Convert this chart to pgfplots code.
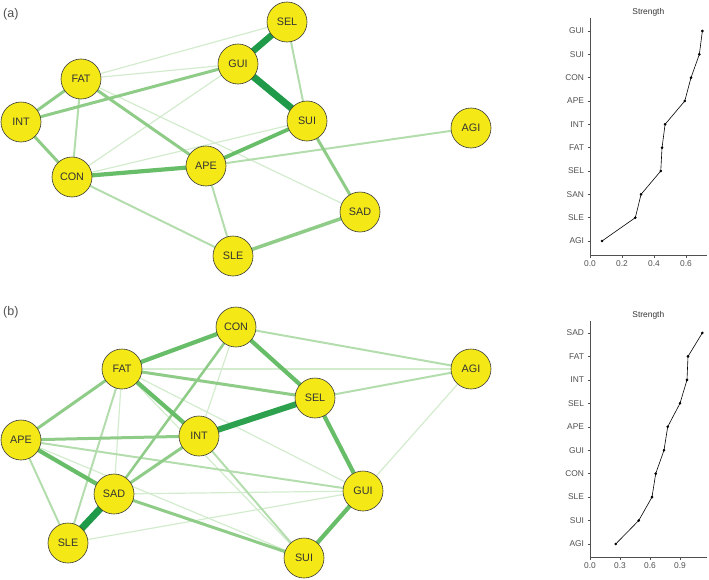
\documentclass[border=0pt]{standalone}
\usepackage{pgfplots}
\pgfplotsset{compat=1.18}
\usepackage{pgfplotstable}
\usepackage{fontspec}
\setmainfont{Liberation Sans}

\definecolor{nodey}{HTML}{F4E916}
\definecolor{nodeb}{HTML}{3A3A3A}
\definecolor{eA}{HTML}{D3ECCE}
\definecolor{eB}{HTML}{B4DDAD}
\definecolor{eC}{HTML}{8FCC88}
\definecolor{eD}{HTML}{68BD68}
\definecolor{eE}{HTML}{1E9A48}
\definecolor{txt}{HTML}{333333}
\definecolor{axg}{HTML}{505050}

\tikzset{
  e1/.style={line width=1.2pt, color=eA},
  e2/.style={line width=2pt, color=eB},
  e3/.style={line width=3pt, color=eC},
  e4/.style={line width=4.2pt, color=eD},
  e5/.style={line width=6.5pt, color=eE},
}

\pgfplotstableread{
x y label
287 22 SEL
238 64 GUI
81 79 FAT
21 122 INT
307 121 SUI
471 128 AGI
206 166 APE
72 177 CON
360 212 SAD
233 256 SLE
}\netA

\pgfplotstableread{
x y label
236 327 CON
122 369 FAT
471 369 AGI
315 398 SEL
21 440 APE
199 436 INT
363 491 GUI
114 494 SAD
68 543 SLE
304 558 SUI
}\netB

\pgfplotstableread{
v y
0.075 1
0.283 2
0.319 3
0.442 4
0.450 5
0.469 6
0.592 7
0.631 8
0.683 9
0.702 10
}\strA

\pgfplotstableread{
v y
0.257 1
0.487 2
0.620 3
0.657 4
0.740 5
0.777 6
0.900 7
0.970 8
0.980 9
1.123 10
}\strB

\pgfplotsset{
  net/.style={scale only axis, width=709pt, height=580pt,
    xmin=0, xmax=709, ymin=0, ymax=580, y dir=reverse,
    hide axis, clip=false, at={(0pt,0pt)}, anchor=north west},
  nodesty/.style={only marks, mark=*, mark size=20pt,
    mark options={fill=nodey, draw=nodeb, line width=0.6pt},
    nodes near coords, point meta=explicit symbolic,
    every node near coord/.append style={anchor=center, text=txt,
      font=\fontsize{10.8}{12}\selectfont}},
  strength/.style={scale only axis, width=116.7pt, height=237pt,
    axis lines*=left, tick align=outside, major tick length=2.5pt,
    axis line style={axg, line width=0.5pt},
    tick style={axg, line width=0.5pt},
    ytick={1,...,10},
    ticklabel style={font=\fontsize{8.4}{10}\selectfont, text=axg},
    /pgf/number format/assume math mode=true,
    xticklabel style={/pgf/number format/fixed, /pgf/number format/fixed zerofill, /pgf/number format/precision=1},
    title={Strength},
    title style={font=\fontsize{8.4}{10}\selectfont, text=txt, yshift=-7.5pt},
    clip=false},
}

\begin{document}
\begin{tikzpicture}
\useasboundingbox (0pt,0pt) rectangle (709pt,-580pt);

% ---------- network (a) ----------
\begin{axis}[net]
\addplot[e1] coordinates {(81,79) (287,22)};    % FAT-SEL
\addplot[e1] coordinates {(81,79) (238,64)};    % FAT-GUI
\addplot[e1] coordinates {(81,79) (360,212)};   % FAT-SAD
\addplot[e1] coordinates {(72,177) (238,64)};   % CON-GUI
\addplot[e1] coordinates {(72,177) (307,121)};  % CON-SUI
\addplot[e2] coordinates {(287,22) (307,121)};  % SEL-SUI
\addplot[e2] coordinates {(206,166) (471,128)}; % APE-AGI
\addplot[e2] coordinates {(206,166) (233,256)}; % APE-SLE
\addplot[e2] coordinates {(72,177) (233,256)};  % CON-SLE
\addplot[e2] coordinates {(81,79) (72,177)};    % FAT-CON
\addplot[e3] coordinates {(21,122) (238,64)};   % INT-GUI
\addplot[e3] coordinates {(81,79) (21,122)};    % FAT-INT
\addplot[e3] coordinates {(81,79) (206,166)};   % FAT-APE
\addplot[e3] coordinates {(21,122) (72,177)};   % INT-CON
\addplot[e3] coordinates {(307,121) (360,212)}; % SUI-SAD
\addplot[e3, line width=3.5pt] coordinates {(233,256) (360,212)}; % SLE-SAD
\addplot[e4] coordinates {(72,177) (206,166)};  % CON-APE
\addplot[e4, line width=3.8pt] coordinates {(206,166) (307,121)}; % APE-SUI
\addplot[e5] coordinates {(287,22) (238,64)};   % SEL-GUI
\addplot[e5, line width=7pt] coordinates {(238,64) (307,121)}; % GUI-SUI
\addplot[nodesty] table[x=x, y=y, meta=label] {\netA};
\end{axis}

% ---------- network (b) ----------
\begin{axis}[net]
\addplot[e1] coordinates {(236,327) (199,436)}; % CON-INT
\addplot[e1] coordinates {(122,369) (471,369)}; % FAT-AGI
\addplot[e1] coordinates {(122,369) (114,494)}; % FAT-SAD
\addplot[e1] coordinates {(122,369) (363,491)}; % FAT-GUI
\addplot[e1] coordinates {(122,369) (304,558)}; % FAT-SUI
\addplot[e1] coordinates {(471,369) (363,491)}; % AGI-GUI
\addplot[e1] coordinates {(21,440) (304,558)};  % APE-SUI
\addplot[e1] coordinates {(114,494) (363,491)}; % SAD-GUI
\addplot[e1] coordinates {(68,543) (363,491)};  % SLE-GUI
\addplot[e2] coordinates {(236,327) (471,369)}; % CON-AGI
\addplot[e2] coordinates {(315,398) (471,369)}; % SEL-AGI
\addplot[e2] coordinates {(122,369) (68,543)};  % FAT-SLE
\addplot[e2] coordinates {(21,440) (363,491)};  % APE-GUI
\addplot[e2] coordinates {(21,440) (68,543)};   % APE-SLE
\addplot[e2] coordinates {(199,436) (304,558)}; % INT-SUI
\addplot[e2, line width=2.5pt, color=eC] coordinates {(236,327) (114,494)}; % CON-SAD
\addplot[e3] coordinates {(122,369) (315,398)}; % FAT-SEL
\addplot[e3] coordinates {(122,369) (21,440)};  % FAT-APE
\addplot[e3] coordinates {(21,440) (199,436)};  % APE-INT
\addplot[e3] coordinates {(199,436) (114,494)}; % INT-SAD
\addplot[e3] coordinates {(114,494) (304,558)}; % SAD-SUI
\addplot[e4] coordinates {(236,327) (122,369)}; % CON-FAT
\addplot[e4] coordinates {(236,327) (315,398)}; % CON-SEL
\addplot[e4] coordinates {(122,369) (199,436)}; % FAT-INT
\addplot[e4] coordinates {(315,398) (363,491)}; % SEL-GUI
\addplot[e4] coordinates {(21,440) (114,494)};  % APE-SAD
\addplot[e4] coordinates {(363,491) (304,558)}; % GUI-SUI
\addplot[e5, line width=6pt, color=eE!80!eD] coordinates {(315,398) (199,436)}; % SEL-INT
\addplot[e5, line width=7pt] coordinates {(114,494) (68,543)}; % SAD-SLE
\addplot[nodesty] table[x=x, y=y, meta=label] {\netB};
\end{axis}

\node[anchor=west, text=axg, font=\fontsize{12.5}{14}\selectfont, inner sep=0pt] at (3pt,-14pt) {(a)};
\node[anchor=west, text=axg, font=\fontsize{12.5}{14}\selectfont, inner sep=0pt] at (3pt,-312pt) {(b)};

% ---------- strength (a) ----------
\begin{axis}[strength, at={(590pt,-255pt)}, anchor=south west,
  xmin=0, xmax=0.729, ymin=0.4, ymax=10.557,
  xtick={0,0.2,0.4,0.6},
  yticklabels={AGI,SLE,SAN,SEL,FAT,INT,APE,CON,SUI,GUI}]
\addplot[black, line width=0.6pt, mark=*, mark size=1pt] table[x=v, y=y] {\strA};
\end{axis}

% ---------- strength (b) ----------
\begin{axis}[strength, at={(590pt,-557pt)}, anchor=south west, height=236pt,
  xmin=0, xmax=1.167, ymin=0.445, ymax=10.51,
  xtick={0,0.3,0.6,0.9},
  yticklabels={AGI,SUI,SLE,CON,GUI,APE,SEL,INT,FAT,SAD}]
\addplot[black, line width=0.6pt, mark=*, mark size=1pt] table[x=v, y=y] {\strB};
\end{axis}
\end{tikzpicture}
\end{document}
